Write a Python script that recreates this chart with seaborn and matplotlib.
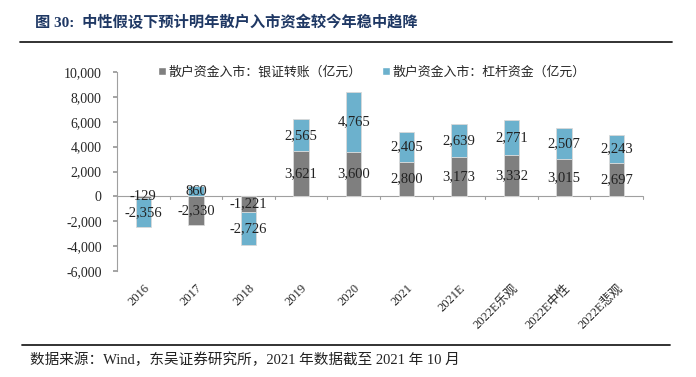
import matplotlib
matplotlib.use("Agg")
import matplotlib.pyplot as plt
import seaborn as sns
import pandas as pd
import numpy as np
from matplotlib.lines import Line2D
from matplotlib.patches import Patch

sns.set_theme(style="white")
plt.rcParams['font.family'] = ['Liberation Serif', 'Noto Sans CJK SC', 'DejaVu Sans']
plt.rcParams['axes.unicode_minus'] = False

categories = ["2016", "2017", "2018", "2019", "2020", "2021", "2021E",
              "2022E乐观", "2022E中性", "2022E悲观"]
bank_transfer = [-129, -2330, -1221, 3621, 3600, 2800, 3173, 3332, 3015, 2697]
leverage = [-2356, 860, -2726, 2565, 4765, 2405, 2639, 2771, 2507, 2243]
series_names = ["散户资金入市：银证转账（亿元）", "散户资金入市：杠杆资金（亿元）"]
yticks = [-6000, -4000, -2000, 0, 2000, 4000, 6000, 8000, 10000]

gray = "#7F7F7F"
blue = "#6CB1CD"

df = pd.DataFrame({"cat": categories, "bank": bank_transfer, "lev": leverage})
df["lev_bottom"] = [b if (b * l > 0) else 0 for b, l in zip(bank_transfer, leverage)]

fig = plt.figure(figsize=(6.96, 3.77), dpi=100)
ax = fig.add_axes([117 / 696, 1 - 271 / 377, (643 - 117) / 696, (271 - 72) / 377])

sns.barplot(data=df, x="cat", y="bank", color=gray, width=0.29, ax=ax,
            edgecolor="#D9D9D9", linewidth=0.6, saturation=1)
sns.barplot(data=df, x="cat", y="lev", bottom=df["lev_bottom"], color=blue,
            width=0.29, ax=ax, edgecolor="#D9D9D9", linewidth=0.6, saturation=1)

lbl_font = dict(fontsize=10.5, color="#222222", ha="center", va="center",
                family=['Liberation Serif'])
for i, (b, l, lb) in enumerate(zip(bank_transfer, leverage, df["lev_bottom"])):
    yb = b / 2
    yl = lb + l / 2
    if i == 0:
        yb = 30
    ax.text(i, yb, f"{b:,}", **lbl_font)
    ax.text(i, yl, f"{l:,}", **lbl_font)

ax.set_xlim(-0.5, len(categories) - 0.5)
ax.set_ylim(-6000, 10000)
ax.set_yticks(yticks)
ax.set_yticklabels([f"{v:,}" for v in yticks], fontsize=10)
ax.set_xlabel("")
ax.set_ylabel("")
ax.set_xticks(range(len(categories)))
ax.set_xticklabels(categories, rotation=45, ha="right", rotation_mode="anchor",
                   fontsize=9)
ax.tick_params(axis="x", length=0, pad=8)
ax.tick_params(axis="y", length=3, color="#999999", pad=8, direction="out", left=True)

for s in ["top", "right", "bottom"]:
    ax.spines[s].set_visible(False)
ax.spines["left"].set_color("#A0A0A0")
ax.spines["left"].set_linewidth(0.8)
ax.axhline(0, color="#A0A0A0", linewidth=0.8, zorder=0.5)
for k in range(len(categories) + 1):
    ax.plot([k - 0.5, k - 0.5], [0, -180], color="#A0A0A0", linewidth=0.8,
            clip_on=False, zorder=0.5)

handles = [Patch(facecolor=gray), Patch(facecolor=blue)]
leg = fig.legend(handles, series_names, loc="upper left",
                 bbox_to_anchor=(153 / 696, 1 - 61 / 377), ncol=2, frameon=False,
                 fontsize=9.3, handlelength=0.6, handleheight=0.6, handletextpad=0.2,
                 columnspacing=1.6, borderaxespad=0)

fig.text(35 / 696, 1 - 22 / 377, "图 30:  中性假设下预计明年散户入市资金较今年稳中趋降",
         fontsize=11, fontweight="bold", color="#1F3864", va="center", ha="left")
fig.add_artist(Line2D([20 / 696, 672 / 696], [1 - 42 / 377, 1 - 42 / 377],
                      color="#222222", linewidth=1.3))
fig.add_artist(Line2D([22 / 696, 670 / 696], [1 - 345 / 377, 1 - 345 / 377],
                      color="#222222", linewidth=1.3))
fig.text(30 / 696, 1 - 360 / 377,
         "数据来源：Wind，东吴证券研究所，2021 年数据截至 2021 年 10 月",
         fontsize=10.5, color="#222222", va="center", ha="left")

fig.savefig("out.png", dpi=100, facecolor="white")
